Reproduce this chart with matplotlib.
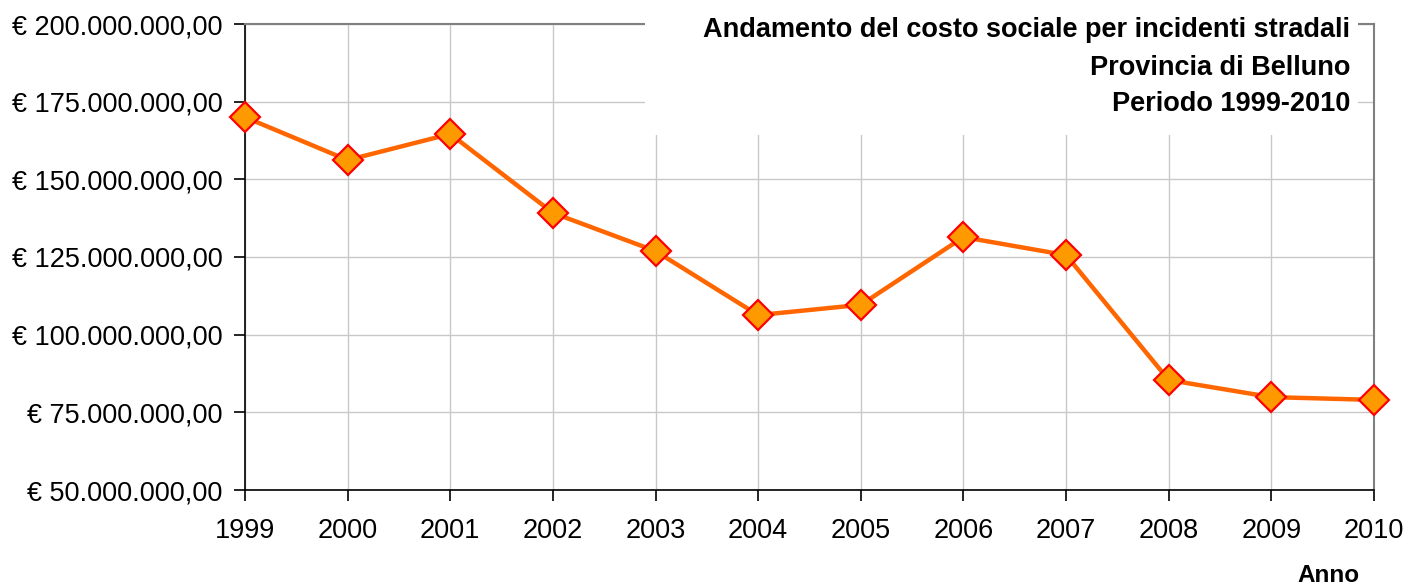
import matplotlib
matplotlib.use("Agg")
import matplotlib.pyplot as plt
from matplotlib.patches import Rectangle
from matplotlib.ticker import FuncFormatter

years = ["1999", "2000", "2001", "2002", "2003", "2004", "2005", "2006", "2007", "2008", "2009", "2010"]
costo = [170.0e6, 156.2e6, 164.6e6, 139.2e6, 126.9e6, 106.3e6, 109.6e6, 131.4e6, 125.6e6, 85.4e6, 79.9e6, 79.0e6]
yticks = [50e6, 75e6, 100e6, 125e6, 150e6, 175e6, 200e6]
title_lines = ["Andamento del costo sociale per incidenti stradali", "Provincia di Belluno", "Periodo 1999-2010"]

plt.rcParams['font.family'] = ['Liberation Sans', 'DejaVu Sans']
W, H = 1408, 588
fig = plt.figure(figsize=(W / 100, H / 100), dpi=100)
ax = fig.add_axes([245 / W, 1 - 490 / H, (1374 - 245) / W, (490 - 24) / H])

x = list(range(len(years)))
ax.plot(x, costo, color='#FF6600', lw=3.2, marker='D', markersize=15,
        markerfacecolor='#FF9900', markeredgecolor='#FF0000', markeredgewidth=1.6,
        zorder=5, clip_on=False)

ax.set_xlim(0, len(years) - 1)
ax.set_ylim(50e6, 200e6)
ax.set_xticks(x)
ax.set_xticklabels(years)
ax.set_yticks(yticks)

def fmt(v, pos):
    s = f"{v:,.2f}".replace(",", "X").replace(".", ",").replace("X", ".")
    return "€ " + s
ax.yaxis.set_major_formatter(FuncFormatter(fmt))

ax.grid(True, color='#C8C8C8', lw=1)
ax.set_axisbelow(True)
for s in ['left', 'bottom']:
    ax.spines[s].set_color('#000000')
    ax.spines[s].set_linewidth(1.2)
for s in ['top', 'right']:
    ax.spines[s].set_color('#808080')
    ax.spines[s].set_linewidth(1.5)
ax.tick_params(axis='both', direction='out', length=8, width=1.2, color='#000000',
               labelsize=19.5, pad=8)
ax.tick_params(axis='x', pad=12)

# white title box covering the gridlines
fig.add_artist(Rectangle((645 / W, 1 - 135 / H), (1358 - 645) / W, 135 / H,
                         transform=fig.transFigure, facecolor='white', edgecolor='none', zorder=3))
ys = [30, 68, 104]
for t, yy in zip(title_lines, ys):
    fig.text(1350 / W, 1 - yy / H, t, ha='right', va='center', fontsize=19.5,
             fontweight='bold', zorder=4)

fig.text(1328 / W, 1 - 576 / H, "Anno", ha='center', va='center', fontsize=17.5,
         fontweight='bold')

fig.savefig("out.png", dpi=100, facecolor='white')
